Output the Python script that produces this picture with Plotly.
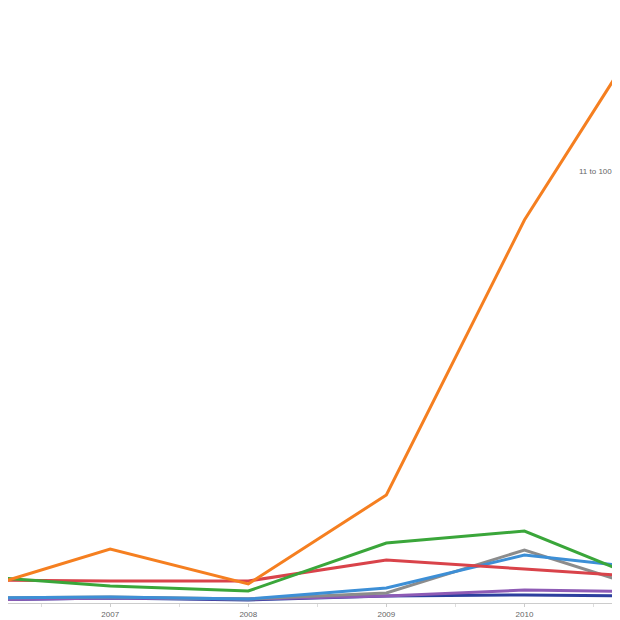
import plotly.graph_objects as go

years = [2006, 2007, 2008, 2009, 2010, 2011]
series = {
    "11 to 100": ([12, 54, 19, 108, 383, 600], "#f57f20"),
    "2 to 10": ([27, 17, 12, 60, 72, 16], "#3aa63a"),
    "101 to 1000": ([23, 22, 22, 43, 34, 25], "#d9434a"),
    "1001 to 10000": ([5, 6, 4, 15, 48, 33], "#3d8fd6"),
    "over 10000": ([5, 6, 4, 10, 53, 9], "#8c8c8c"),
    "1": ([3, 5, 4, 7, 13, 11], "#8e5bb5"),
    "unknown": ([3, 5, 3, 7, 8, 7], "#2c3f9e"),
}
tick_vals = [2007, 2008, 2009, 2010]
tick_text = ["2007", "2008", "2009", "2010"]

fig = go.Figure()
for name in ["unknown", "1", "over 10000", "1001 to 10000", "101 to 1000", "2 to 10", "11 to 100"]:
    vals, col = series[name]
    fig.add_trace(go.Scatter(x=years, y=vals, name=name, mode="lines",
                             line=dict(color=col, width=3)))
fig.add_annotation(xref="paper", yref="paper", x=0.918, y=0.736, text="11 to 100",
                   showarrow=False, xanchor="left", font=dict(size=8, color="#666"))
fig.update_layout(
    width=620, height=620, showlegend=False,
    paper_bgcolor="white", plot_bgcolor="white",
    margin=dict(l=0, r=0, t=0, b=25, autoexpand=False),
    font=dict(family="Liberation Sans"),
    xaxis=dict(range=[2006.26, 2010.75], tickvals=tick_vals, ticktext=tick_text,
               automargin=False,
               showgrid=False, zeroline=False, showline=True, linecolor="#ccc",
               ticks="outside", ticklen=3, tickcolor="#ccc",
               tickfont=dict(size=8, color="#666"),
               minor=dict(dtick=0.5, ticks="outside", ticklen=3, tickcolor="#ddd")),
    yaxis=dict(range=[0, 595], visible=False, automargin=False),
)
fig.write_html("out.html")
